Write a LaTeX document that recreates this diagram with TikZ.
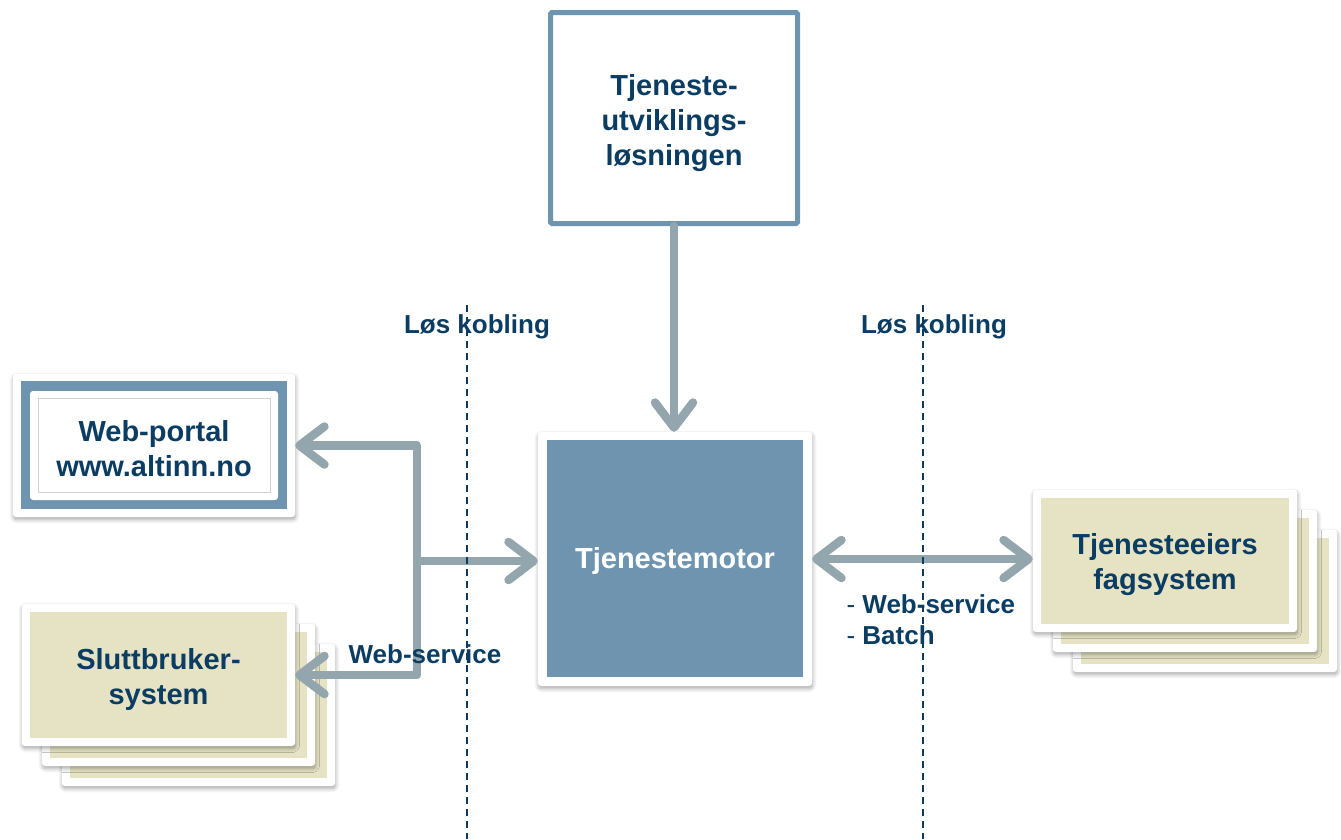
\documentclass[tikz,border=0pt]{standalone}
\usepackage{fontspec}
\setmainfont{Liberation Sans}
\usetikzlibrary{arrows.meta,shadows,shadows.blur}
\definecolor{txt}{HTML}{0B3D63}
\definecolor{motorblue}{HTML}{6E94AF}
\definecolor{arrowgrey}{HTML}{93A6AE}
\definecolor{beige}{HTML}{E6E3C5}
\begin{document}
\begin{tikzpicture}[x=1pt,y=-1pt,
  frame/.style={fill=white, rounded corners=3pt, inner sep=0pt, draw=none,
    blur shadow={shadow blur steps=6, shadow blur radius=4pt, shadow xshift=0.5pt, shadow yshift=-2.5pt, shadow opacity=35}},
  beigebox/.style={fill=beige, inner sep=0pt, draw=none},
  bigtext/.style={font=\bfseries\fontsize{29}{35}\selectfont, text=txt, align=center},
  lbl/.style={font=\bfseries\fontsize{26}{31}\selectfont, text=txt},
  conn/.style={draw=arrowgrey, line width=8.5pt, line cap=round, line join=round,
    -{Straight Barb[length=25pt,width=38pt,round]}},
  dashline/.style={draw=txt, line width=1.5pt, dash pattern=on 7pt off 5pt}]
\useasboundingbox (0,0) rectangle (1341,839);

% top box
\node[draw=motorblue, line width=5pt, fill=white, rounded corners=1.5pt,
  minimum width=247pt, minimum height=211pt, inner sep=0pt] (dev) at (674,118) {};
\node[bigtext] (devtxt) at (674,123) {Tjeneste-\\utviklings-\\løsningen};

% motor
\node[frame, minimum width=274pt, minimum height=254pt] (motorframe) at (675,559) {};
\node[fill=motorblue, inner sep=0pt, minimum width=256pt, minimum height=237pt] (motor) at (675,558.5) {};
\node[font=\bfseries\fontsize{29}{35}\selectfont, text=white] (motortxt) at (675,561) {Tjenestemotor};

% web portal
\node[frame, minimum width=282pt, minimum height=143pt] (web) at (154,445.5) {};
\node[fill=motorblue, inner sep=0pt, minimum width=266pt, minimum height=128pt] (webblue) at (154,445) {};
\node[fill=white, rounded corners=3pt, inner sep=0pt, minimum width=248pt, minimum height=109pt] (webinner) at (154,445.5) {};
\node[draw=black!18, line width=1pt, inner sep=0pt, minimum width=232pt, minimum height=94pt] (webline) at (154,445) {};
\node[bigtext] (webtxt) at (154,448.5) {Web-portal\\www.altinn.no};

% Sluttbruker stack
\node[frame, minimum width=273pt, minimum height=142pt] (s3) at (198.5,715) {};
\node[beigebox, minimum width=257pt, minimum height=126pt] (s3in) at (198.5,715) {};
\node[frame, minimum width=273pt, minimum height=142pt] (s2) at (178.5,695) {};
\node[beigebox, minimum width=257pt, minimum height=126pt] (s2in) at (178.5,695) {};
\node[frame, minimum width=273pt, minimum height=142pt] (slutt) at (158.5,675) {};
\node[beigebox, minimum width=257pt, minimum height=126pt] (sluttin) at (158.5,675) {};
\node[bigtext] (slutttxt) at (158.5,679) {Sluttbruker-\\system};

% Tjenesteeiers stack
\node[frame, minimum width=264pt, minimum height=142pt] (t3) at (1205,601) {};
\node[beigebox, minimum width=248pt, minimum height=126pt] (t3in) at (1205,601) {};
\node[frame, minimum width=264pt, minimum height=142pt] (t2) at (1185,581) {};
\node[beigebox, minimum width=248pt, minimum height=126pt] (t2in) at (1185,581) {};
\node[frame, minimum width=264pt, minimum height=142pt] (tjen) at (1165,561) {};
\node[beigebox, minimum width=248pt, minimum height=126pt] (tjenin) at (1165,561) {};
\node[bigtext] (tjentxt) at (1165,565) {Tjenesteeiers\\fagsystem};

% connectors
\coordinate (jm) at (417,561);
\draw[conn] (dev.south) -- (dev.south |- motorframe.north);
\draw[conn] (jm) |- (web.east);
\draw[conn] (jm) |- (slutt.east);
\draw[conn] (jm) -- (motorframe.west |- jm);
\draw[conn, {Straight Barb[length=25pt,width=38pt,round]}-{Straight Barb[length=25pt,width=38pt,round]}]
  (motorframe.east) -- (tjen.west |- motorframe.east);

% labels
\node[lbl] (lk1) at (477,327) {Løs kobling};
\node[lbl] (lk2) at (934,327) {Løs kobling};
\node[lbl] (ws) at (425,654) {Web-service};
\node[lbl, align=left, anchor=west] (wsb) at (843,620) {{\mdseries -} Web-service\\{\mdseries -} Batch};

% dashed separators (drawn on top)
\coordinate (d1t) at (467,305); \coordinate (d1b) at (467,839);
\coordinate (d2t) at (923,305); \coordinate (d2b) at (923,839);
\draw[dashline] (d1t) -- (d1b);
\draw[dashline] (d2t) -- (d2b);
\end{tikzpicture}
\end{document}
